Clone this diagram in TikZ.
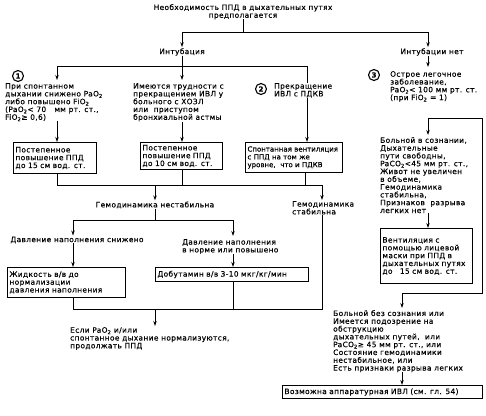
\documentclass[tikz,border=0pt]{standalone}
\usepackage{fontspec}
\setmainfont{DejaVu Sans}[LetterSpace=5,FakeBold=0.4]
\newfontfamily\tightfont{DejaVu Sans}[FakeBold=0.4]
\usetikzlibrary{positioning,calc,arrows.meta}
\newcommand{\fsz}{\fontsize{7.4}{7.8}\selectfont}
\tikzset{
  >={Stealth[length=5pt,width=3.4pt]},
  wire/.style={line width=0.9pt},
  txt/.style={font=\fsz,inner sep=0pt,align=left,anchor=north west},
  ctxt/.style={font=\fsz,inner sep=0pt,align=center},
  num/.style={circle,draw,line width=1.1pt,inner sep=0pt,minimum size=11pt,
    font=\fontsize{7}{7}\selectfont\bfseries},
  stepbox/.style args={#1,#2}{
  draw=black,
  line width=1pt,
  font=\fsz,
  align=left,
  anchor=north west,
  inner sep=2pt,
  text width=#1,
  minimum height=#2,
  }
}
\begin{document}
\begin{tikzpicture}[x=1pt,y=-1pt]
  \useasboundingbox (0,0) rectangle (486,415);

  % top
  \node [ctxt,anchor=north] (need) at (243,4) {Необходимость ППД в дыхательных путях\\предполагается};
  \node [ctxt] (intub) at (182,52) {Интубация};
  \node [ctxt] (nointub) at (432,52) {Интубации нет};
  \coordinate (r0) at (243,32);
  \draw [wire] (need) -- (r0);
  \draw [wire,->,shorten >=1pt] (r0) -| (intub);
  \draw [wire,->,shorten >=1pt] (r0) -| ([xshift=-4pt]nointub.north);

  % intubation branch
  \node [num] (n1) at (18,76) {1};
  \node [txt] (spont) at (5,83) {При спонтанном\\дыхании снижено PaO\textsubscript{2}\\либо повышено FiO\textsubscript{2}\\(PaO\textsubscript{2}< 70~~~мм рт. ст.,\\FiO\textsubscript{2}≥ 0,6)};
  \node [txt] (copd) at (133,83) {Имеются трудности с\\прекращением ИВЛ у\\больного с ХОЗЛ\\или~~приступом\\бронхиальной астмы};
  \node [num] (n2) at (261,89) {2};
  \node [txt] (peep) at (274,83) {Прекращение\\ИВЛ с ПДКВ};

  \node [stepbox={79pt,31pt}] (b15) at (13,142) {Постепенное\\повышение ППД\\до 15 см вод. ст.};
  \node [stepbox={78pt,27pt}] (b10) at (140,142) {Постепенное\\повышение ППД\\до 10 см вод. ст.};
  \node [stepbox={93pt,30pt},font=\tightfont\fontsize{7}{7.8}\selectfont] (bsp) at (245,142) {Спонтанная вентиляция\\с ППД на том же\\уровне,~ что и ПДКВ};

  \coordinate (i1) at (57,66);
  \coordinate (i2) at (182,66);
  \coordinate (i3) at (307,66);
  \draw [wire] (intub) -- (i2);
  \draw [wire,->,shorten >=3pt] (i2) -- (i1) -- (i1 |- spont.north);
  \draw [wire,->,shorten >=3pt] (i2) -- (i2 |- copd.north);
  \draw [wire] (i2) -- (i3) -- (i3 |- peep.north);
  \draw [wire,->] (peep.south -| i3) -- (i3 |- bsp.north);
  \draw [wire,->] (i1 |- spont.south) -- (i1 |- b15.north);
  \draw [wire,->] (i2 |- copd.south) -- (i2 |- b10.north);

  % haemodynamics
  \coordinate (m1) at (57,185);
  \coordinate (m2) at (322,185);
  \coordinate (m3) at (305,185);
  \node [ctxt] (gn) at (155,205) {Гемодинамика нестабильна};
  \node [txt] (gs) at (292,201) {Гемодинамика\\стабильна};
  \draw [wire] (b15.south -| m1) -- (m1) -- (m2);
  \draw [wire] (b10.south -| i2) -- (i2 |- m1);
  \draw [wire] (bsp.south -| m3) -- (m3);
  \draw [wire,->,shorten >=1pt] (gn.north |- m1) -- (gn);
  \draw [wire,->,shorten >=1pt] (m2) -- (m2 |- gs.north);

  \coordinate (q1) at (73,220);
  \coordinate (q2) at (233,220);
  \node [ctxt] (low) at (77,240) {Давление наполнения снижено};
  \node [txt] (norm) at (182,239) {Давление наполнения\\в норме или повышено};
  \draw [wire] (gn.south) -- (gn.south |- q1);
  \draw [wire] (q1) -- (q2);
  \draw [wire,->,shorten >=1pt] (q1) -- (q1 |- low.north);
  \draw [wire,->,shorten >=3pt] (q2) -- (q2 |- norm.north);

  \node [stepbox={114pt,30pt}] (fluid) at (7,267) {Жидкость в/в до\\нормализации\\давления наполнения};
  \node [stepbox={149pt,14pt}] (dobu) at (155,267) {Добутамин в/в 3-10 мкг/кг/мин};
  \draw [wire,->] (low.south -| q1) -- (q1 |- fluid.north);
  \draw [wire,->] (norm.south -| q2) -- (q2 |- dobu.north);

  \coordinate (s1) at (73,309);
  \coordinate (s2) at (322,309);
  \coordinate (s3) at (155,309);
  \node [txt] (result) at (70,327) {Если PaO\textsubscript{2} и/или\\спонтанное дыхание нормализуются,\\продолжать ППД};
  \draw [wire] (fluid.south -| s1) -- (s1) -- (s2) -- (gs.south -| s2);
  \draw [wire] (dobu.south -| q2) -- (q2 |- s1);
  \draw [wire,->,shorten >=1pt] (s3) -- (s3 |- result.north);

  % no intubation branch
  \node [num] (n3) at (374,75) {3};
  \node [txt] (acute) at (390,71) {Острое легочное\\заболевание,\\PaO\textsubscript{2}< 100 мм рт. ст.\\(при FiO\textsubscript{2} = 1)};
  \node [txt] (awake) at (380,137) {Больной в сознании,\\Дыхательные\\пути свободны,\\PaCO\textsubscript{2}<45 мм рт. ст.,\\Живот не увеличен\\в объеме,\\Гемодинамика\\стабильна,\\Признаков~ разрыва\\легких нет};
  \node [stepbox={88pt,55pt}] (mask) at (380,228) {Вентиляция с\\помощью лицевой\\маски при ППД в\\дыхательных путях\\до~~~15 см вод. ст.};
  \node [txt] (uncons) at (333,310) {Больной без сознания или\\Имеется подозрение на\\обструкцию\\дыхательных путей,~ или\\PaCO\textsubscript{2}≥ 45 мм рт. ст., или\\Состояние гемодинамики\\нестабильное, или\\Есть признаки разрыва легких};
  \node [stepbox={196pt,13pt}] (vent) at (282,385) {Возможна аппаратурная ИВЛ (см. гл. 54)};

  \coordinate (k0) at (428,118);
  \coordinate (k1) at (482,293);
  \coordinate (k2) at (402,293);
  \draw [wire,->,shorten >=4pt] (nointub.south -| k0) -- (k0 |- acute.north);
  \draw [wire,->,shorten >=2pt] (k0) -- (k0 |- awake.north);
  \draw [wire] (k0) -| (k1) -- (k2);
  \draw [wire,->,shorten >=2pt] (k2) -- (k2 |- uncons.north);
  \draw [wire,->] (awake.south -| k0) -- (k0 |- mask.north);
  \draw [wire,->] (uncons.south -| k2) -- (k2 |- vent.north);
\end{tikzpicture}
\end{document}
